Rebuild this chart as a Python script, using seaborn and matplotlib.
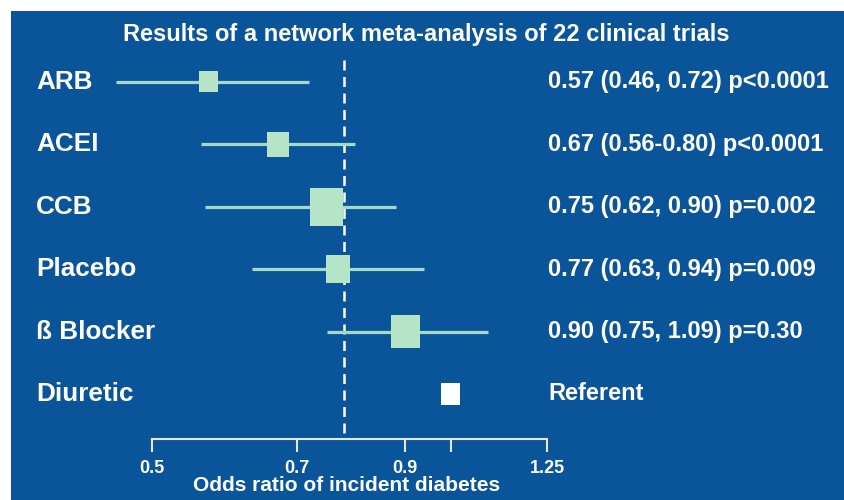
import numpy as np
import pandas as pd
import seaborn as sns
import matplotlib.pyplot as plt
from matplotlib.ticker import NullLocator, FixedLocator, FixedFormatter
from matplotlib.path import Path

# data (interval ends as drawn)
drugs = ["ARB", "ACEI", "CCB", "Placebo", "ß Blocker", "Diuretic"]
odds = [0.57, 0.67, 0.75, 0.77, 0.90, 1.0]
ci_lo = [0.46, 0.56, 0.565, 0.63, 0.75, np.nan]
ci_hi = [0.72, 0.80, 0.88, 0.94, 1.09, np.nan]
box_size = [21, 25, 38, 28, 33, 22]   # relative weight of each estimate
stats = ["0.57 (0.46, 0.72) p<0.0001",
         "0.67 (0.56-0.80) p<0.0001",
         "0.75 (0.62, 0.90) p=0.002",
         "0.77 (0.63, 0.94) p=0.009",
         "0.90 (0.75, 1.09) p=0.30",
         "Referent"]
kind = ["est", "est", "est", "est", "est", "ref"]
ref_line = 0.78
xticks = [0.5, 0.7, 0.9, 1.0, 1.25]
xticklabels = ["0.5", "0.7", "0.9", "", "1.25"]

bg = "#0a5499"
mint = "#b6e4c6"
line_c = "#a3d9c6"

sns.set_theme(style="white")
plt.rcParams["font.family"] = ["Liberation Sans", "DejaVu Sans"]

df = pd.DataFrame({"drug": drugs, "odds": odds, "lo": ci_lo, "hi": ci_hi,
                   "size": box_size, "kind": kind})
df["row"] = np.arange(len(df))
# marker area in pt^2 from box height in px
df["s"] = (df["size"] * 0.72) ** 2

fig = plt.figure(figsize=(8.44, 5.0), dpi=100)
fig.patch.set_facecolor("white")
ax = fig.add_axes([11 / 844, 0.0, 833 / 844, 489 / 500])
ax.set_facecolor(bg)

ax.set_xscale("log")
ax.set_xlim(0.3605, 2.49)
ax.set_ylim(6.7, -1.138)

# reference line
ax.plot([ref_line, ref_line], [-0.35, 5.72], color="white", lw=1.8,
        ls=(0, (4, 2.6)), zorder=1)

# confidence intervals
est = df[df["kind"] == "est"]
ax.hlines(est["row"], est["lo"], est["hi"], color=line_c, lw=2.3, zorder=2)

rect = Path([(-0.88, -1), (0.88, -1), (0.88, 1), (-0.88, 1), (-0.88, -1)],
            [Path.MOVETO, Path.LINETO, Path.LINETO, Path.LINETO, Path.CLOSEPOLY])
sns.scatterplot(data=df, x="odds", y="row", hue="kind", size="s",
                sizes={v: v for v in df["s"]}, palette={"est": mint, "ref": "white"},
                marker=rect, linewidth=0, legend=False, ax=ax, zorder=3)

for i in range(len(df)):
    ax.text(25 / 833, i, drugs[i], transform=ax.get_yaxis_transform(),
            color="white", fontsize=18.8, fontweight="bold", va="center", ha="left")
    ax.text(537 / 833, i, stats[i], transform=ax.get_yaxis_transform(),
            color="white", fontsize=17, fontweight="bold", va="center", ha="left")

ax.text(415 / 833, -0.76, "Results of a network meta-analysis of 22 clinical trials",
        transform=ax.get_yaxis_transform(), color="white", fontsize=17,
        fontweight="bold", ha="center", va="center")

ax.text(336 / 833, 6.47, "Odds ratio of incident diabetes",
        transform=ax.get_yaxis_transform(), color="white", fontsize=15,
        fontweight="bold", ha="center", va="center")

for side in ["top", "right", "left"]:
    ax.spines[side].set_visible(False)
ax.spines["bottom"].set_position(("data", 5.72))
ax.spines["bottom"].set_bounds(0.5, 1.25)
ax.spines["bottom"].set_color("#e6e6e6")
ax.spines["bottom"].set_linewidth(1.5)
ax.xaxis.set_major_locator(FixedLocator(xticks))
ax.xaxis.set_major_formatter(FixedFormatter(xticklabels))
ax.xaxis.set_minor_locator(NullLocator())
ax.tick_params(axis="x", bottom=True, direction="out", length=9.5, width=1.5,
               color="#e6e6e6", labelcolor="white", labelsize=13, pad=5.5)
for t in ax.get_xticklabels():
    t.set_fontweight("bold")
ax.set_yticks([])
ax.set_xlabel("")
ax.set_ylabel("")

fig.savefig("out.png", dpi=100, facecolor=fig.get_facecolor())
